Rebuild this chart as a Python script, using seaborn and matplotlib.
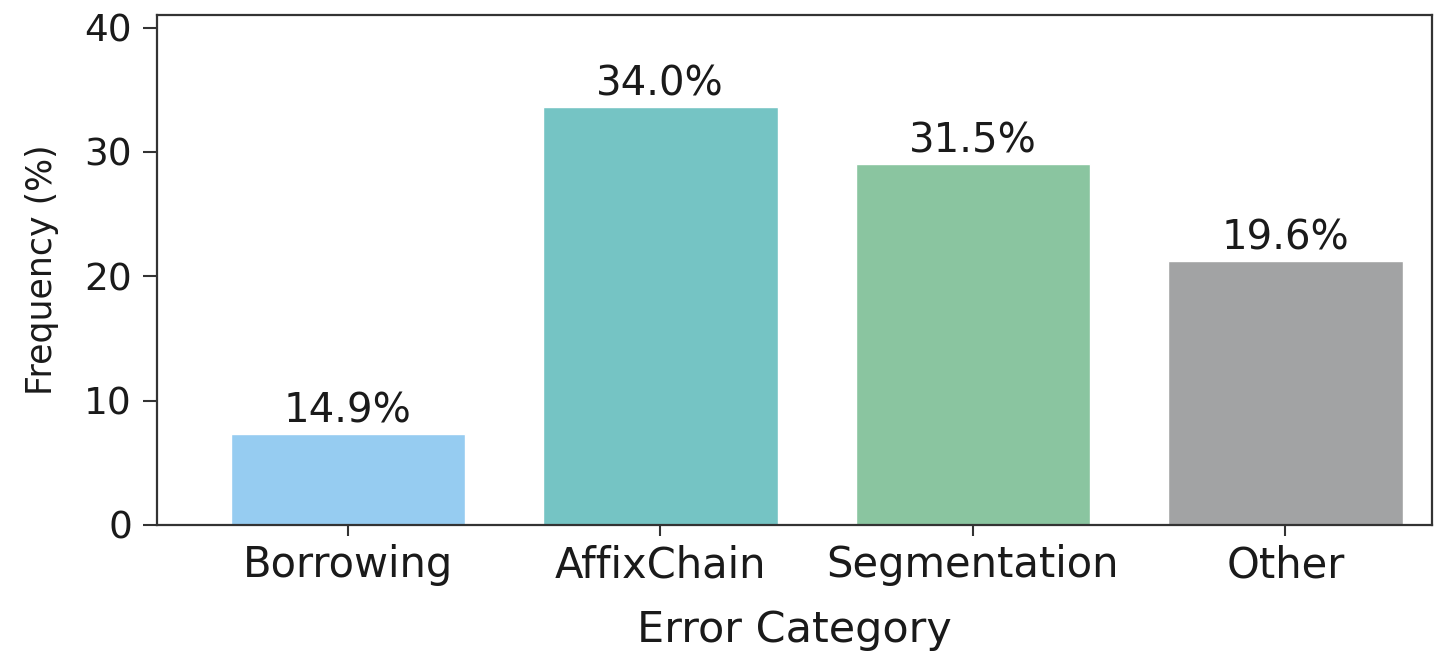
import seaborn as sns
import matplotlib.pyplot as plt

# values: drawn bar heights and the printed labels differ
categories = ['Borrowing', 'AffixChain', 'Segmentation', 'Other']
heights = [7.3, 33.6, 29.0, 21.2]
labels = ['14.9%', '34.0%', '31.5%', '19.6%']
colors = ['#96CCF1', '#75C4C4', '#8AC5A0', '#A2A3A4']
yticks = [0, 10, 20, 30, 40]

sns.set_style('ticks')
plt.rcParams['font.family'] = ['DejaVu Sans']

fig = plt.figure(figsize=(14.41, 6.57), dpi=100)
ax = fig.add_axes([0.109, 0.201, 0.885, 0.776])

sns.barplot(x=categories, y=heights, hue=categories, palette=colors,
            legend=False, width=0.75, saturation=1, ax=ax)

for cont, lab in zip(ax.containers, labels):
    ax.bar_label(cont, labels=[lab], padding=2, fontsize=29, color='#1a1a1a')

ax.set_xlim(-0.61, 3.47)
ax.set_ylim(0, 41)
ax.set_yticks(yticks)
ax.set_xlabel('Error Category', fontsize=31, labelpad=16, color='#1a1a1a')
ax.set_ylabel('Frequency (%)', fontsize=25, labelpad=18, color='#1a1a1a')
ax.tick_params(axis='y', labelsize=27, length=10, width=1.5, pad=8, colors='#333333', labelcolor='#1a1a1a')
ax.tick_params(axis='x', labelsize=30, length=8, width=1.5, pad=6, colors='#333333', labelcolor='#1a1a1a')
for s in ax.spines.values():
    s.set_visible(True)
    s.set_linewidth(1.6)
    s.set_color('#333333')

fig.savefig('out.png', dpi=100)
